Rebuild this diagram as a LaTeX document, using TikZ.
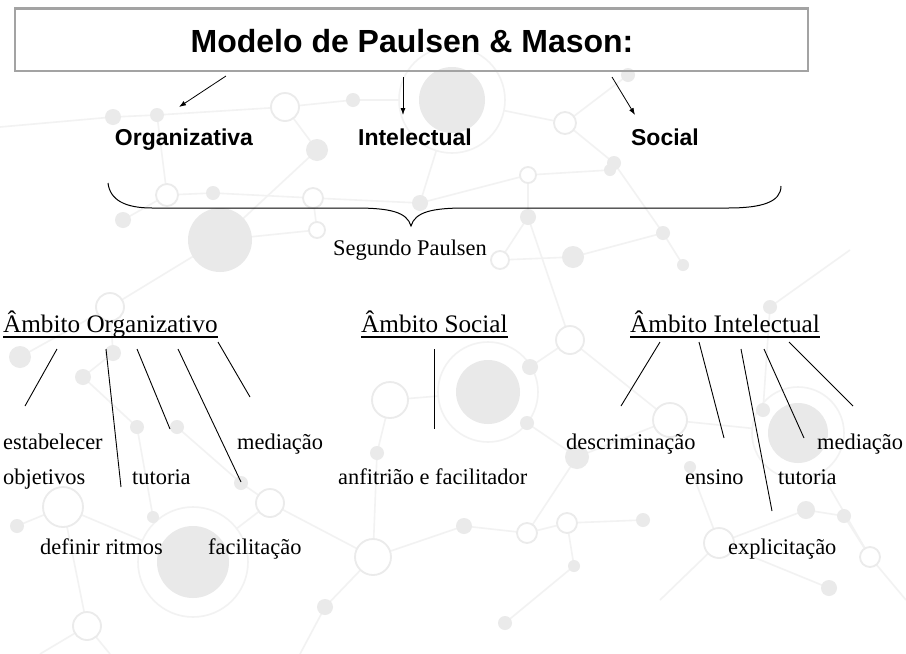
\documentclass[tikz,border=0pt]{standalone}
\usepackage{fontspec}
\setmainfont{Liberation Serif}
\newfontfamily\sansb{Liberation Sans}
\usetikzlibrary{arrows.meta}
\definecolor{bgdot}{HTML}{EAEAEA}
\definecolor{bgbig}{HTML}{E9E9E9}
\definecolor{bgline}{HTML}{F2F2F2}
\definecolor{bgringc}{HTML}{EBEBEB}
\definecolor{boxgray}{HTML}{A3A3A3}
\tikzset{
  bgl/.style={draw=bgline, line width=1.6pt},
  bgfill/.style={fill=bgdot},
  bgbigfill/.style={fill=bgbig},
  bgring/.style={draw=bgringc, line width=1.8pt, fill=white},
  arr/.style={-{Latex[length=7pt,width=5pt]}, line width=0.8pt},
  titletext/.style={font=\sansb\bfseries\fontsize{32}{38}\selectfont, inner sep=0pt, anchor=base},
  cattext/.style={font=\sansb\bfseries\fontsize{23}{28}\selectfont, inner sep=0pt, anchor=base},
  headtext/.style={font=\fontsize{25.2}{30}\selectfont, inner sep=0pt, anchor=base west},
  leaftext/.style={font=\fontsize{22.4}{27}\selectfont, inner sep=0pt, anchor=base west},
  conn/.style={line width=0.9pt},
  uline/.style={line width=1.6pt},
}
\begin{document}
\begin{tikzpicture}[x=1pt,y=-1pt]
\useasboundingbox (0,0) rectangle (906,654);
\fill[white] (0,0) rectangle (906,654);

% ---------- faint background network ----------
\draw[bgl] (113,117) -- (157,115) -- (285,107) -- (353,100) -- (452,100) -- (565,123) -- (628,75);
\draw[bgl] (565,123) -- (614,163) -- (663,233);
\draw[bgl] (285,107) -- (317,150) -- (220,240);
\draw[bgl] (157,115) -- (167,195) -- (123,220);
\draw[bgl] (0,127) -- (113,117);
\draw[bgl] (167,195) -- (213,193) -- (313,198) -- (420,203) -- (528,175) -- (610,170);
\draw[bgl] (313,198) -- (317,230) -- (220,240);
\draw[bgl] (528,175) -- (528,217) -- (500,260) -- (573,257) -- (663,233) -- (683,265);
\draw[bgl] (220,240) -- (110,307) -- (20,357);
\draw[bgl] (110,307) -- (113,353) -- (83,377);
\draw[bgl] (390,400) -- (488,392) -- (530,367) -- (570,340) -- (528,217);
\draw[bgl] (570,340) -- (670,420) -- (798,433) -- (870,557);
\draw[bgl] (670,420) -- (577,457) -- (527,533) -- (567,523) -- (643,520);
\draw[bgl] (527,423) -- (577,457);
\draw[bgl] (390,400) -- (377,453) -- (373,557) -- (325,607) -- (300,654);
\draw[bgl] (373,557) -- (270,503) -- (193,562) -- (63,507) -- (17,526);
\draw[bgl] (193,562) -- (153,517) -- (137,427) -- (83,377);
\draw[bgl] (63,507) -- (87,626) -- (110,654);
\draw[bgl] (87,626) -- (40,654);
\draw[bgl] (270,503) -- (241,483) -- (177,427);
\draw[bgl] (527,533) -- (464,526) -- (373,557);
\draw[bgl] (567,523) -- (574,566) -- (505,623);
\draw[bgl] (719,543) -- (806,510) -- (844,516) -- (870,557) -- (906,600);
\draw[bgl] (719,543) -- (829,588);
\draw[bgl] (798,433) -- (763,410) -- (770,307) -- (850,250);
\draw[bgl] (690,467) -- (719,543) -- (660,600);
\draw[bgl] (452,100) -- (420,203);
% big circles with rings
\draw[bgl, fill=white] (452,100) circle (53);
\fill[bgbigfill] (452,100) circle (33);
\draw[bgl, fill=white] (488,392) circle (50);
\fill[bgbigfill] (488,392) circle (32);
\draw[bgl, fill=white] (798,433) circle (46);
\fill[bgbigfill] (798,433) circle (30);
\draw[bgl, fill=white] (193,562) circle (55);
\fill[bgbigfill] (193,562) circle (36);
\fill[bgbigfill] (220,240) circle (32);
% rings
\foreach \p/\r in {(285,107)/14,(565,123)/11,(167,195)/11,(313,198)/10,(528,175)/8,
  (500,260)/9,(110,307)/14,(390,400)/18,(63,507)/20,(270,503)/14,(373,557)/18,
  (670,420)/17,(527,533)/10,(567,523)/10,(870,557)/10,(570,340)/14,(719,543)/15,
  (87,626)/14,(317,230)/8}
  \draw[bgring] \p circle (\r);
% dots
\foreach \p/\r in {(157,115)/7,(113,117)/8,(353,100)/7,(317,150)/11,(628,75)/7,
  (123,220)/8,(213,193)/7,(420,203)/8,(610,170)/6,(528,217)/8,(663,233)/7,
  (573,257)/11,(683,265)/6,(20,357)/11,(83,377)/8,(113,353)/8,(137,427)/7,
  (177,427)/7,(241,483)/7,(377,453)/7,(17,526)/7,(153,517)/6,(577,457)/12,
  (530,367)/8,(527,423)/7,(690,467)/6,(643,520)/7,(574,566)/6,(806,510)/9,
  (844,516)/7,(763,410)/7,(770,307)/7,(325,607)/8,(505,623)/7,(464,526)/8,
  (829,588)/8,(614,163)/7}
  \fill[bgfill] \p circle (\r);

% ---------- title ----------
\node[draw=boxgray, line width=2.2pt, minimum width=793pt, minimum height=62.5pt, inner sep=0pt] (box) at (411.5,39.75) {};
\node[titletext] (ttl) at (412,52) {Modelo de Paulsen \& Mason:};

% ---------- categories ----------
\node[cattext] (org) at (184,145) {Organizativa};
\node[cattext] (int) at (415,145) {Intelectual};
\node[cattext] (soc) at (665,145) {Social};

\coordinate (a1s) at (226,76);  \coordinate (a1e) at (179,107);
\coordinate (a2s) at (403,77);  \coordinate (a2e) at (403,115);
\coordinate (a3s) at (612,77);  \coordinate (a3e) at (635,115);
\draw[arr] (a1s) -- (a1e);
\draw[arr] (a2s) -- (a2e);
\draw[arr] (a3s) -- (a3e);

% ---------- brace ----------
\draw[line width=1pt] (108,183) .. controls (110,200) and (125,208) .. (152,208)
  -- (355,208) .. controls (390,208) and (407,212) .. (411,226)
  .. controls (415,212) and (432,208) .. (465,208)
  -- (728,208) .. controls (762,208) and (781,202) .. (781,186);
\node[font=\fontsize{22.4}{27}\selectfont, inner sep=0pt, anchor=base] (seg) at (410,255) {Segundo Paulsen};

% ---------- headers ----------
\node[headtext] (ho) at (3,332) {Âmbito Organizativo};
\node[headtext] (hs) at (361,332) {Âmbito Social};
\node[headtext] (hi) at (630,332) {Âmbito Intelectual};
\foreach \h in {ho,hs,hi}
  \draw[uline] ([yshift=-5pt]\h.base west) -- ([yshift=-5pt]\h.base east);

% ---------- leaves ----------
\node[leaftext] (o1) at (3,449) {estabelecer};
\node[leaftext] (o2) at (3,484) {objetivos};
\node[leaftext] (o3) at (132,484) {tutoria};
\node[leaftext] (o4) at (237,449) {mediação};
\node[leaftext] (o5) at (40,554) {definir ritmos};
\node[leaftext] (o6) at (208,554) {facilitação};
\node[leaftext] (s1) at (338,484) {anfitrião e facilitador};
\node[leaftext] (i1) at (566,449) {descriminação};
\node[leaftext] (i2) at (817,449) {mediação};
\node[leaftext] (i3) at (685,484) {ensino};
\node[leaftext] (i4) at (778,484) {tutoria};
\node[leaftext] (i5) at (728,554) {explicitação};

% ---------- connectors ----------
\coordinate (co1a) at (57,349);  \coordinate (co1b) at (25,406);
\coordinate (co2a) at (106,349); \coordinate (co2b) at (121,487);
\coordinate (co3a) at (137,349); \coordinate (co3b) at (170,429);
\coordinate (co4a) at (178,349); \coordinate (co4b) at (241,482);
\coordinate (co5a) at (218,342); \coordinate (co5b) at (250,397);
\coordinate (cs1a) at (434,349); \coordinate (cs1b) at (434,429);
\coordinate (ci1a) at (660,342); \coordinate (ci1b) at (621,406);
\coordinate (ci2a) at (699,342); \coordinate (ci2b) at (724,438);
\coordinate (ci3a) at (741,349); \coordinate (ci3b) at (772,511);
\coordinate (ci4a) at (764,349); \coordinate (ci4b) at (804,438);
\coordinate (ci5a) at (789,342); \coordinate (ci5b) at (853,406);
\foreach \c in {co1,co2,co3,co4,co5,cs1,ci1,ci2,ci3,ci4,ci5}
  \draw[conn] (\c a) -- (\c b);
\end{tikzpicture}
\end{document}
